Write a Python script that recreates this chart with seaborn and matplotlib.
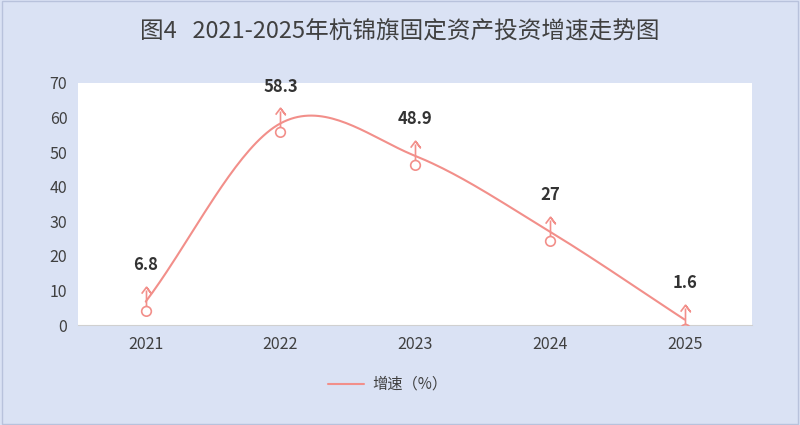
import numpy as np
import matplotlib.pyplot as plt
import seaborn as sns
from matplotlib.path import Path

years = ["2021", "2022", "2023", "2024", "2025"]
growth = [6.8, 58.3, 48.9, 27, 1.6]

sns.set_style("white")
plt.rcParams['font.family'] = ['Noto Sans CJK SC', 'DejaVu Sans']

line_c = "#f28f8a"
bg = "#dae2f4"

fig = plt.figure(figsize=(8, 4.25), dpi=100, facecolor=bg)
ax = fig.add_axes([0.098, 0.235, 0.842, 0.57])
ax.set_facecolor("white")

# smooth curve through the points (Catmull-Rom)
x = np.arange(len(growth), dtype=float)
y = np.array(growth, dtype=float)
px = np.concatenate([[2 * x[0] - x[1]], x, [2 * x[-1] - x[-2]]])
py = np.concatenate([[2 * y[0] - y[1]], y, [2 * y[-1] - y[-2]]])
sx, sy = [], []
t = np.linspace(0, 1, 40)
for i in range(1, len(px) - 2):
    for p, out in ((px, sx), (py, sy)):
        p0, p1, p2, p3 = p[i - 1:i + 3]
        out.extend(0.5 * (2 * p1 + (-p0 + p2) * t + (2 * p0 - 5 * p1 + 4 * p2 - p3) * t ** 2
                          + (-p0 + 3 * p1 - 3 * p2 + p3) * t ** 3))
sns.lineplot(x=sx, y=sy, ax=ax, color=line_c, lw=1.5, sort=False)

# marker: small circle below, arrow above
circ = Path.circle((0, -0.55), 0.3)
verts = list(circ.vertices) + [(0, -0.25), (0, 0.75), (-0.3, 0.55), (0, 0.95), (0.3, 0.55), (0, 0.95)]
codes = list(circ.codes) + [Path.MOVETO, Path.LINETO, Path.MOVETO, Path.LINETO, Path.LINETO, Path.LINETO]
mk = Path(verts, codes)
ax.plot(x, y, ls="none", marker=mk, ms=22, mfc="none", mec=line_c, mew=1.2, zorder=3)

for xi, yi in zip(x, growth):
    ax.annotate(f"{yi:g}", (xi, yi), xytext=(0, 20), textcoords="offset points",
                ha="center", va="bottom", fontsize=12, fontweight="bold", color="#333333")

ax.set_xlim(-0.5, 4.5)
ax.set_ylim(0, 70)
ax.set_yticks(range(0, 71, 10))
ax.set_xticks(x)
ax.set_xticklabels(years)
ax.tick_params(labelsize=11.5, colors="#404040", length=0, pad=8)
for s in ["top", "right", "left"]:
    ax.spines[s].set_visible(False)
ax.spines["bottom"].set_color("#d0d0d0")

fig.text(0.5, 0.925, "图4   2021-2025年杭锦旗固定资产投资增速走势图", ha="center", va="center",
         fontsize=17, color="#404040")

# legend
lx, ly = 0.41, 0.097
fig.lines.append(plt.Line2D([lx, lx + 0.045], [ly, ly], transform=fig.transFigure, color=line_c, lw=1.5))
fig.text(lx + 0.055, ly, "增速（%）", va="center", fontsize=11, color="#404040")

fig.patches.append(plt.Rectangle((0.002, 0.002), 0.996, 0.996, transform=fig.transFigure,
                                 fill=False, ec="#b8c2dc", lw=1))
fig.savefig("out.png", dpi=100, facecolor=bg)
